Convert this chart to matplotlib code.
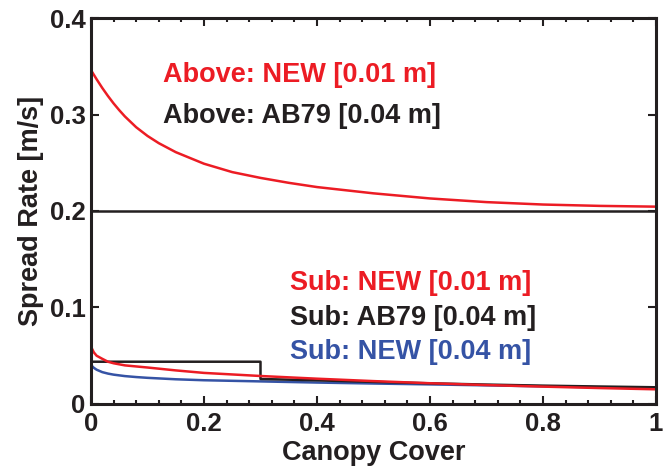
#!/usr/bin/env python3

import numpy as np
import matplotlib
matplotlib.use('Agg')
import matplotlib.pyplot as plt
from matplotlib.ticker import MultipleLocator

# above-canopy curve
above_x = [0, 0.01, 0.02, 0.03, 0.04, 0.05, 0.06, 0.08, 0.1, 0.12, 0.15, 0.2,
           0.25, 0.3, 0.35, 0.4, 0.5, 0.6, 0.7, 0.8, 0.9, 1.0]
above_new = [0.346, 0.3365, 0.3275, 0.3192, 0.3115, 0.3045, 0.2980, 0.2868,
             0.2778, 0.2703, 0.2610, 0.2490, 0.2403, 0.2343, 0.2292, 0.2248,
             0.2183, 0.2130, 0.2092, 0.2067, 0.2053, 0.2045]
above_ab79_x = [0, 1.0]
above_ab79 = [0.200, 0.200]

# sub-canopy curves
sub_x = [0, 0.005, 0.01, 0.02, 0.03, 0.04, 0.06, 0.08, 0.1, 0.15, 0.2, 0.3,
         0.4, 0.5, 0.6, 0.7, 0.8, 0.9, 1.0]
sub_new_01 = [0.0594, 0.0535, 0.0500, 0.0468, 0.0438, 0.0422, 0.0400, 0.0389,
              0.0378, 0.0348, 0.0322, 0.0290, 0.0262, 0.0237, 0.0215, 0.0196,
              0.0180, 0.0165, 0.0152]
sub_new_04 = [0.0404, 0.0375, 0.0355, 0.0330, 0.0315, 0.0304, 0.0289, 0.0279,
              0.0271, 0.0256, 0.0246, 0.0234, 0.0222, 0.0212, 0.0203, 0.0193,
              0.0183, 0.0173, 0.0164]
sub_ab79_x = [0, 0.3, 0.3, 0.4, 0.5, 0.6, 0.7, 0.8, 0.9, 1.0]
sub_ab79 = [0.0438, 0.0438, 0.0259, 0.0245, 0.0229, 0.0214, 0.0201, 0.0190,
            0.0181, 0.0173]

labels = ["Above: NEW [0.01 m]", "Above: AB79 [0.04 m]",
          "Sub: NEW [0.01 m]", "Sub: AB79 [0.04 m]", "Sub: NEW [0.04 m]"]
xticks = [0, 0.2, 0.4, 0.6, 0.8, 1.0]
xticklabels = ['0', '0.2', '0.4', '0.6', '0.8', '1']
yticks = [0, 0.1, 0.2, 0.3, 0.4]
yticklabels = ['0', '0.1', '0.2', '0.3', '0.4']

red = '#ec1c24'
blk = '#231f20'
blue = '#3553a5'

plt.rcParams['font.family'] = ['Liberation Sans', 'DejaVu Sans']
plt.rcParams['font.weight'] = 'bold'


def main():
    fig = plt.figure(figsize=(6.69, 4.68), dpi=100)
    ax = fig.add_axes([0.136, 0.1368, 0.8446, 0.8247])

    lw = 1.8
    ax.plot(above_x, above_new, color=red, lw=lw)
    ax.plot(above_ab79_x, above_ab79, color=blk, lw=lw)
    ax.plot(sub_x, sub_new_04, color=blue, lw=lw)
    ax.plot(sub_ab79_x, sub_ab79, color=blk, lw=lw)
    ax.plot(sub_x, sub_new_01, color=red, lw=lw)

    fs = 19.5
    ax.text(0.127, 0.341, labels[0], color=red, fontsize=fs, fontweight='bold', va='center')
    ax.text(0.127, 0.298, labels[1], color=blk, fontsize=fs, fontweight='bold', va='center')
    ax.text(0.352, 0.125, labels[2], color=red, fontsize=fs, fontweight='bold', va='center')
    ax.text(0.352, 0.089, labels[3], color=blk, fontsize=fs, fontweight='bold', va='center')
    ax.text(0.352, 0.054, labels[4], color=blue, fontsize=fs, fontweight='bold', va='center')

    ax.set_xlim(0, 1)
    ax.set_ylim(0, 0.4)
    ax.set_xticks(xticks)
    ax.set_xticklabels(xticklabels)
    ax.set_yticks(yticks)
    ax.set_yticklabels(yticklabels)
    ax.xaxis.set_minor_locator(MultipleLocator(0.04))

    ax.tick_params(which='both', direction='in', top=True, right=True,
                   labelsize=18.5, width=1.5, color=blk, labelcolor=blk)
    ax.tick_params(axis='x', which='major', length=6, pad=6)
    ax.tick_params(axis='y', which='major', length=6, pad=4)
    ax.tick_params(which='minor', length=3)
    for s in ax.spines.values():
        s.set_linewidth(2.2)
        s.set_color(blk)

    ax.set_xlabel('Canopy Cover', fontsize=fs, fontweight='bold', color=blk, labelpad=3)
    ax.set_ylabel('Spread Rate [m/s]', fontsize=fs, fontweight='bold', color=blk, labelpad=4)

    fig.savefig('out.png', dpi=100)


if __name__ == '__main__':
    main()
